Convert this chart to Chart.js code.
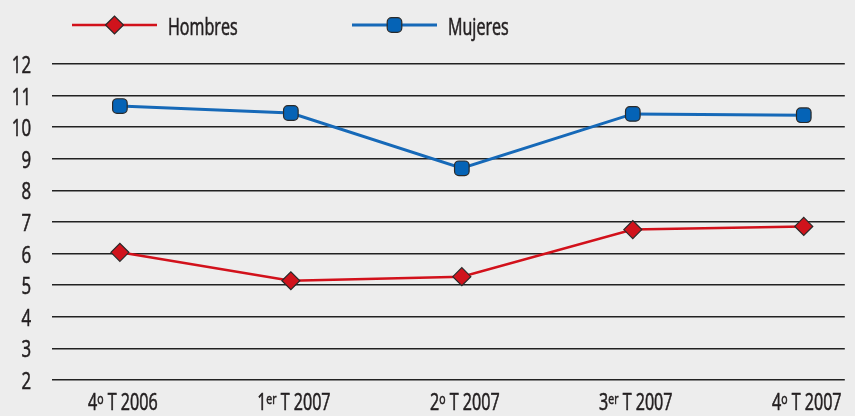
<!DOCTYPE html>
<html>
<head>
<meta charset="utf-8">
<script src="https://cdn.jsdelivr.net/npm/chart.js@4"></script>
<style>
  html, body { margin: 0; padding: 0; background: #ededed; }
  #wrap { width: 855px; height: 416px; }
</style>
</head>
<body>
<div id="wrap"><canvas id="myChart" width="855" height="416"></canvas></div>
<script>
// Data
const quarters = ['4º T 2006', '1er T 2007', '2º T 2007', '3er T 2007', '4º T 2007'];
const hombres = [6.04, 5.14, 5.27, 6.76, 6.86];
const mujeres = [10.67, 10.45, 8.70, 10.42, 10.38];
const yTicks = [2, 3, 4, 5, 6, 7, 8, 9, 10, 11, 12];

const FONT = '"Open Sans", "Noto Sans", sans-serif';
const TEXT = '#231f20';
const SQUEEZE = 0.7; // no condensed font installed, so narrow the text by hand

const toPoints = arr => arr.map((v, i) => ({ x: i, y: v }));

// draws a run of [text, size, rise] pieces, horizontally squeezed
function drawRun(ctx, pieces, x, y, align) {
  const widths = pieces.map(p => { ctx.font = p[1] + 'px ' + FONT; return ctx.measureText(p[0]).width * SQUEEZE; });
  const total = widths.reduce((a, b) => a + b, 0);
  let cx = align === 'right' ? x - total : align === 'center' ? x - total / 2 : x;
  pieces.forEach((p, i) => {
    ctx.save();
    ctx.font = p[1] + 'px ' + FONT;
    ctx.translate(cx, y - (p[2] || 0));
    ctx.scale(SQUEEZE, 1);
    ctx.fillText(p[0], 0, 0);
    ctx.strokeStyle = ctx.fillStyle;
    ctx.lineWidth = 0.6;
    ctx.strokeText(p[0], 0, 0);
    ctx.restore();
    cx += widths[i];
  });
}

// legend drawn at the top: line with marker, then label
const topLegend = {
  id: 'topLegend',
  afterDraw(chart) {
    const ctx = chart.ctx;
    const items = [{ ds: 0, x1: 72, x2: 157, tx: 168 }, { ds: 1, x1: 352, x2: 437, tx: 448 }];
    items.forEach(it => {
      const ds = chart.data.datasets[it.ds];
      const y = 25;
      ctx.save();
      ctx.strokeStyle = ds.borderColor;
      ctx.lineWidth = ds.borderWidth;
      ctx.beginPath();
      ctx.moveTo(it.x1, y);
      ctx.lineTo(it.x2, y);
      ctx.stroke();
      ctx.fillStyle = ds.pointBackgroundColor;
      ctx.strokeStyle = ds.pointBorderColor;
      ctx.lineWidth = ds.pointBorderWidth;
      Chart.helpers.drawPoint(ctx, { pointStyle: ds.pointStyle, radius: ds.pointRadius, borderWidth: ds.pointBorderWidth }, (it.x1 + it.x2) / 2, y);
      ctx.fillStyle = TEXT;
      ctx.textBaseline = 'alphabetic';
      ctx.textAlign = 'left';
      drawRun(ctx, [[ds.label, 23]], it.tx, 34.5, 'left');
      ctx.restore();
    });
  }
};

// axis labels: y numbers and x quarters with superscript ordinals
const axisLabels = {
  id: 'axisLabels',
  afterDraw(chart) {
    const ctx = chart.ctx;
    const xs = chart.scales.x, ys = chart.scales.y;
    ctx.save();
    ctx.fillStyle = TEXT;
    ctx.textBaseline = 'alphabetic';
    ctx.textAlign = 'left';
    yTicks.forEach(v => {
      drawRun(ctx, [[String(v), 24]], 31, ys.getPixelForValue(v) + 9, 'right');
    });
    quarters.forEach((lab, i) => {
      const m = lab.match(/^(\d+)(º|er)(.*)$/);
      const pieces = m
        ? [[m[1], 23], [m[2] === 'º' ? 'o' : m[2], 15, 6], [m[3], 23]]
        : [[lab, 23]];
      drawRun(ctx, pieces, xs.getPixelForValue(i) + 3, 410, 'center');
    });
    ctx.restore();
  }
};

const ctx = document.getElementById('myChart');
const myChart = new Chart(ctx, {
  type: 'line',
  data: {
    datasets: [{
      label: 'Hombres',
      data: toPoints(hombres),
      borderColor: '#d2111b',
      borderWidth: 2.5,
      pointStyle: 'rectRot',
      pointRadius: 9,
      pointBackgroundColor: '#d0131c',
      pointBorderColor: '#2a2a2a',
      pointBorderWidth: 1.2,
      tension: 0
    }, {
      label: 'Mujeres',
      data: toPoints(mujeres),
      borderColor: '#1669b8',
      borderWidth: 3,
      pointStyle: 'rectRounded',
      pointRadius: 8.5,
      pointBackgroundColor: '#0563b6',
      pointBorderColor: '#2a2a2a',
      pointBorderWidth: 1.2,
      tension: 0
    }]
  },
  options: {
    responsive: false,
    animation: false,
    events: [],
    layout: { padding: { top: 64, right: 9, left: 0, bottom: 0 } },
    plugins: { legend: { display: false }, tooltip: { enabled: false } },
    scales: {
      x: {
        type: 'linear',
        min: -0.397,
        max: 4.24,
        grid: { display: false },
        border: { display: false },
        ticks: { display: false, includeBounds: false, stepSize: 1 },
        afterFit(scale) { scale.height = 36; }
      },
      y: {
        min: 2,
        max: 12,
        afterBuildTicks(scale) { scale.ticks = yTicks.map(v => ({ value: v })); },
        afterFit(scale) { scale.width = 52; },
        grid: { color: '#222', lineWidth: 1.6, drawTicks: false },
        border: { display: false },
        ticks: { display: false }
      }
    }
  },
  plugins: [topLegend, axisLabels]
});
</script>
</body>
</html>
